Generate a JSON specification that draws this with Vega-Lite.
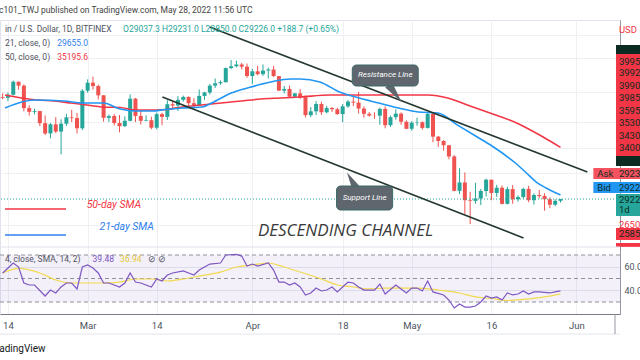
{
  "$schema": "https://vega.github.io/schema/vega-lite/v6.json",
  "width": 620,
  "height": 294,
  "autosize": {"type": "none"},
  "padding": {"left": 0, "top": 20, "right": 20, "bottom": 46},
  "background": "white",
  "config": {"view": {"stroke": "#e0e3eb"}, "font": "Roboto"},
  "title": {"text": "c101_TWJ published on TradingView.com, May 28, 2022 11:56 UTC", "anchor": "start", "frame": "group", "fontSize": 8.5, "fontWeight": "normal", "font": "Roboto", "color": "#444444", "offset": 6, "dx": -1},
  "datasets": {
    "candles": [
      {"d":"2022-02-13","o":42200,"h":42760,"l":41870,"c":42070},
      {"d":"2022-02-14","o":42070,"h":42880,"l":41570,"c":42540},
      {"d":"2022-02-15","o":42540,"h":44760,"l":42430,"c":44580},
      {"d":"2022-02-16","o":44580,"h":44580,"l":43310,"c":43960},
      {"d":"2022-02-17","o":43960,"h":44160,"l":40070,"c":40540},
      {"d":"2022-02-18","o":40540,"h":40960,"l":39450,"c":40000},
      {"d":"2022-02-19","o":40000,"h":40450,"l":39640,"c":40110},
      {"d":"2022-02-20","o":40110,"h":40150,"l":38000,"c":38400},
      {"d":"2022-02-21","o":38400,"h":39480,"l":36800,"c":37010},
      {"d":"2022-02-22","o":37010,"h":38430,"l":36350,"c":38240},
      {"d":"2022-02-23","o":38240,"h":39250,"l":37050,"c":37260},
      {"d":"2022-02-24","o":37260,"h":38950,"l":34320,"c":38330},
      {"d":"2022-02-25","o":38330,"h":39720,"l":38020,"c":39210},
      {"d":"2022-02-26","o":39210,"h":40290,"l":38560,"c":39110},
      {"d":"2022-02-27","o":39110,"h":39850,"l":37000,"c":37700},
      {"d":"2022-02-28","o":37700,"h":43400,"l":37450,"c":43160},
      {"d":"2022-03-01","o":43160,"h":44950,"l":42830,"c":44420},
      {"d":"2022-03-02","o":44420,"h":45400,"l":43330,"c":43890},
      {"d":"2022-03-03","o":43890,"h":44100,"l":41830,"c":42450},
      {"d":"2022-03-04","o":42450,"h":42500,"l":38600,"c":39150},
      {"d":"2022-03-05","o":39150,"h":39620,"l":38560,"c":39400},
      {"d":"2022-03-06","o":39400,"h":39680,"l":38090,"c":38420},
      {"d":"2022-03-07","o":38420,"h":39550,"l":37150,"c":37990},
      {"d":"2022-03-08","o":37990,"h":39360,"l":37860,"c":38730},
      {"d":"2022-03-09","o":38730,"h":42600,"l":38650,"c":41940},
      {"d":"2022-03-10","o":41940,"h":42050,"l":38550,"c":39420},
      {"d":"2022-03-11","o":39420,"h":40240,"l":38220,"c":38730},
      {"d":"2022-03-12","o":38730,"h":39490,"l":38660,"c":38810},
      {"d":"2022-03-13","o":38810,"h":39300,"l":37580,"c":37780},
      {"d":"2022-03-14","o":37780,"h":39900,"l":37560,"c":39670},
      {"d":"2022-03-15","o":39670,"h":39870,"l":38120,"c":39280},
      {"d":"2022-03-16","o":39280,"h":41720,"l":38850,"c":41110},
      {"d":"2022-03-17","o":41110,"h":41470,"l":40500,"c":40920},
      {"d":"2022-03-18","o":40920,"h":42320,"l":40130,"c":41760},
      {"d":"2022-03-19","o":41760,"h":42400,"l":41500,"c":42200},
      {"d":"2022-03-20","o":42200,"h":42300,"l":40900,"c":41260},
      {"d":"2022-03-21","o":41260,"h":42000,"l":40480,"c":41000},
      {"d":"2022-03-22","o":41000,"h":43350,"l":40880,"c":42360},
      {"d":"2022-03-23","o":42360,"h":42990,"l":41750,"c":42890},
      {"d":"2022-03-24","o":42890,"h":44220,"l":42570,"c":43960},
      {"d":"2022-03-25","o":43960,"h":45100,"l":43590,"c":44330},
      {"d":"2022-03-26","o":44330,"h":44800,"l":44100,"c":44510},
      {"d":"2022-03-27","o":44510,"h":46920,"l":44430,"c":46820},
      {"d":"2022-03-28","o":46820,"h":48190,"l":46640,"c":47130},
      {"d":"2022-03-29","o":47130,"h":48100,"l":46950,"c":47430},
      {"d":"2022-03-30","o":47430,"h":47700,"l":46600,"c":47060},
      {"d":"2022-03-31","o":47060,"h":47600,"l":45210,"c":45510},
      {"d":"2022-04-01","o":45510,"h":46700,"l":44210,"c":46280},
      {"d":"2022-04-02","o":46280,"h":47210,"l":45620,"c":45810},
      {"d":"2022-04-03","o":45810,"h":47440,"l":45530,"c":46410},
      {"d":"2022-04-04","o":46410,"h":46890,"l":45120,"c":46580},
      {"d":"2022-04-05","o":46580,"h":47200,"l":45350,"c":45500},
      {"d":"2022-04-06","o":45500,"h":45500,"l":43120,"c":43170},
      {"d":"2022-04-07","o":43170,"h":43900,"l":42730,"c":43440},
      {"d":"2022-04-08","o":43440,"h":43970,"l":42110,"c":42250},
      {"d":"2022-04-09","o":42250,"h":42800,"l":42130,"c":42750},
      {"d":"2022-04-10","o":42750,"h":43420,"l":41870,"c":42160},
      {"d":"2022-04-11","o":42160,"h":42420,"l":39200,"c":39530},
      {"d":"2022-04-12","o":39530,"h":40700,"l":39250,"c":40070},
      {"d":"2022-04-13","o":40070,"h":41560,"l":39550,"c":41150},
      {"d":"2022-04-14","o":41150,"h":41500,"l":39550,"c":39940},
      {"d":"2022-04-15","o":39940,"h":40870,"l":39770,"c":40550},
      {"d":"2022-04-16","o":40550,"h":40710,"l":39990,"c":40380},
      {"d":"2022-04-17","o":40380,"h":40600,"l":39550,"c":39680},
      {"d":"2022-04-18","o":39680,"h":41130,"l":38540,"c":40800},
      {"d":"2022-04-19","o":40800,"h":41760,"l":40570,"c":41500},
      {"d":"2022-04-20","o":41500,"h":42200,"l":40830,"c":41360},
      {"d":"2022-04-21","o":41360,"h":42970,"l":39750,"c":40480},
      {"d":"2022-04-22","o":40480,"h":40800,"l":39180,"c":39710},
      {"d":"2022-04-23","o":39710,"h":39980,"l":39310,"c":39470},
      {"d":"2022-04-24","o":39470,"h":39930,"l":39000,"c":39450},
      {"d":"2022-04-25","o":39450,"h":40620,"l":38200,"c":40430},
      {"d":"2022-04-26","o":40430,"h":40800,"l":37700,"c":38120},
      {"d":"2022-04-27","o":38120,"h":39470,"l":37880,"c":39240},
      {"d":"2022-04-28","o":39240,"h":40370,"l":38880,"c":39740},
      {"d":"2022-04-29","o":39740,"h":39920,"l":38180,"c":38600},
      {"d":"2022-04-30","o":38600,"h":38790,"l":37580,"c":37630},
      {"d":"2022-05-01","o":37630,"h":38670,"l":37390,"c":38470},
      {"d":"2022-05-02","o":38470,"h":39170,"l":38050,"c":38530},
      {"d":"2022-05-03","o":38530,"h":38650,"l":37510,"c":37750},
      {"d":"2022-05-04","o":37750,"h":39900,"l":37660,"c":39700},
      {"d":"2022-05-05","o":39700,"h":39840,"l":35860,"c":36580},
      {"d":"2022-05-06","o":36580,"h":36670,"l":35260,"c":36010},
      {"d":"2022-05-07","o":36010,"h":36140,"l":34780,"c":35470},
      {"d":"2022-05-08","o":35470,"h":35510,"l":33720,"c":34060},
      {"d":"2022-05-09","o":34060,"h":34240,"l":30030,"c":30100},
      {"d":"2022-05-10","o":30100,"h":32650,"l":29740,"c":31020},
      {"d":"2022-05-11","o":31020,"h":32160,"l":27700,"c":29100},
      {"d":"2022-05-12","o":29100,"h":30000,"l":26700,"c":29030},
      {"d":"2022-05-13","o":29030,"h":30990,"l":28730,"c":29280},
      {"d":"2022-05-14","o":29280,"h":30300,"l":28600,"c":30080},
      {"d":"2022-05-15","o":30080,"h":31430,"l":29490,"c":31330},
      {"d":"2022-05-16","o":31330,"h":31330,"l":29100,"c":29870},
      {"d":"2022-05-17","o":29870,"h":30760,"l":29450,"c":30440},
      {"d":"2022-05-18","o":30440,"h":30690,"l":28660,"c":28720},
      {"d":"2022-05-19","o":28720,"h":30550,"l":28660,"c":30290},
      {"d":"2022-05-20","o":30290,"h":30740,"l":28730,"c":29200},
      {"d":"2022-05-21","o":29200,"h":29620,"l":28950,"c":29430},
      {"d":"2022-05-22","o":29430,"h":30440,"l":29260,"c":30310},
      {"d":"2022-05-23","o":30310,"h":30650,"l":28890,"c":29100},
      {"d":"2022-05-24","o":29100,"h":29830,"l":28650,"c":29650},
      {"d":"2022-05-25","o":29650,"h":30200,"l":29310,"c":29540},
      {"d":"2022-05-26","o":29540,"h":29850,"l":28020,"c":29200},
      {"d":"2022-05-27","o":29200,"h":29400,"l":28280,"c":28630},
      {"d":"2022-05-28","o":28630,"h":29200,"l":28470,"c":29037.3},
      {"d":"2022-05-29","o":29037.3,"h":29231,"l":28850,"c":29226}
    ],
    "sma21": [
      {"d":"2022-02-13T10:40:00Z","v":40554},{"d":"2022-02-16T14:10:00Z","v":41440},{"d":"2022-02-19T00:00:00Z","v":41740},
      {"d":"2022-02-24T13:20:00Z","v":41590},{"d":"2022-02-28T06:10:00Z","v":41290},{"d":"2022-03-03T23:00:00Z","v":41290},
      {"d":"2022-03-07T02:40:00Z","v":40410},{"d":"2022-03-10T01:40:00Z","v":40120},{"d":"2022-03-13T05:20:00Z","v":40120},
      {"d":"2022-03-15T15:00:00Z","v":40340},{"d":"2022-03-18T18:40:00Z","v":40554},{"d":"2022-03-22T11:30:00Z","v":40700},
      {"d":"2022-03-24T08:00:00Z","v":41290},{"d":"2022-03-28T01:00:00Z","v":42805},{"d":"2022-03-31T17:45:00Z","v":43740},
      {"d":"2022-04-04T10:40:00Z","v":44535},{"d":"2022-04-08T03:30:00Z","v":45020},{"d":"2022-04-10T00:00:00Z","v":45020},
      {"d":"2022-04-13T17:00:00Z","v":44535},{"d":"2022-04-17T09:50:00Z","v":42960},{"d":"2022-04-21T02:40:00Z","v":42040},
      {"d":"2022-04-24T19:30:00Z","v":41290},{"d":"2022-04-28T12:30:00Z","v":40554},{"d":"2022-05-02T05:20:00Z","v":39975},
      {"d":"2022-05-05T22:20:00Z","v":39830},{"d":"2022-05-09T15:10:00Z","v":38140},{"d":"2022-05-13T08:00:00Z","v":36530},
      {"d":"2022-05-16T02:40:00Z","v":35370},{"d":"2022-05-20T17:45:00Z","v":33150},{"d":"2022-05-22T14:10:00Z","v":32095},
      {"d":"2022-05-24T10:40:00Z","v":31070},{"d":"2022-05-26T07:10:00Z","v":30405},{"d":"2022-05-28T03:30:00Z","v":29864},
      {"d":"2022-05-29T00:00:00Z","v":29655}
    ],
    "sma50": [
      {"d":"2022-02-13T10:40:00Z","v":42498},{"d":"2022-02-16T14:10:00Z","v":42042},{"d":"2022-02-19T13:20:00Z","v":41740},
      {"d":"2022-02-22T16:50:00Z","v":41590},{"d":"2022-02-25T20:25:00Z","v":41290},{"d":"2022-02-28T19:30:00Z","v":41000},
      {"d":"2022-03-03T23:00:00Z","v":40700},{"d":"2022-03-07T02:40:00Z","v":40620},{"d":"2022-03-10T01:40:00Z","v":40265},
      {"d":"2022-03-13T05:20:00Z","v":40265},{"d":"2022-03-15T15:00:00Z","v":40340},{"d":"2022-03-18T18:40:00Z","v":40700},
      {"d":"2022-03-22T11:30:00Z","v":41000},{"d":"2022-03-26T04:30:00Z","v":41290},{"d":"2022-03-29T21:20:00Z","v":41590},
      {"d":"2022-04-02T14:10:00Z","v":41890},{"d":"2022-04-06T07:10:00Z","v":42040},{"d":"2022-04-10T00:00:00Z","v":42195},
      {"d":"2022-04-15T13:20:00Z","v":42498},{"d":"2022-04-21T02:40:00Z","v":42498},{"d":"2022-04-28T12:30:00Z","v":42498},
      {"d":"2022-05-04T01:40:00Z","v":42498},{"d":"2022-05-07T18:40:00Z","v":42040},{"d":"2022-05-11T11:30:00Z","v":41000},
      {"d":"2022-05-15T04:30:00Z","v":39975},{"d":"2022-05-20T17:45:00Z","v":38425},{"d":"2022-05-25T17:45:00Z","v":36530},
      {"d":"2022-05-29T00:00:00Z","v":35195.6}
    ],
    "trend": [
      {"id":"resistance","d":"2022-03-23T23:00:00Z","p":54288},{"id":"resistance","d":"2022-06-03T01:40:00Z","p":32210},
      {"id":"support","d":"2022-03-15T01:40:00Z","p":42194},{"id":"support","d":"2022-05-22T01:00:00Z","p":25398}
    ],
    "keylines": [
      {"s":"50","d":"2022-02-13T10:40:00Z","p":28192},{"s":"50","d":"2022-02-24T22:20:00Z","p":28192},
      {"s":"21","d":"2022-02-13T10:40:00Z","p":25672},{"s":"21","d":"2022-02-24T22:20:00Z","p":25672}
    ],
    "boxes": [
      {"id":"resistance","d":"2022-04-19T19:30:00Z","d2":"2022-05-02T05:20:00Z","p":47346,"p2":43898},
      {"id":"support","d":"2022-04-16T20:25:00Z","d2":"2022-04-27T09:50:00Z","p":30626,"p2":28092}
    ],
    "pointers": [
      {"id":"resistance","d":"2022-04-27T20:50:00Z","p":42729},
      {"id":"support","d":"2022-04-19T15:10:00Z","p":31296}
    ],
    "boxtext": [
      {"t":"Resistance Line","d":"2022-04-26T00:30:00Z","p":45592},
      {"t":"Support Line","d":"2022-04-22T03:10:00Z","p":29331}
    ],
    "legend": [
      {"k":"label","t":"in / U.S. Dollar, 1D, BITFINEX","d":"2022-02-13T10:40:00Z","p":53895},
      {"k":"ohlc","t":"O29037.3  H29231.0  L28850.0  C29226.0  +188.7 (+0.65%)","d":"2022-03-07T16:00:00Z","p":53895},
      {"k":"label","t":"21, close, 0)","d":"2022-02-13T10:40:00Z","p":51245},
      {"k":"sma21","t":"29655.0","d":"2022-02-23T06:15:00Z","p":51245},
      {"k":"label","t":"50, close, 0)","d":"2022-02-13T10:40:00Z","p":48729},
      {"k":"sma50","t":"35195.6","d":"2022-02-23T06:15:00Z","p":48729}
    ],
    "notes": [
      {"k":"sma50","t":"50-day SMA","d":"2022-02-28T19:30:00Z","p":28601},
      {"k":"sma21","t":"21-day SMA","d":"2022-03-03T05:20:00Z","p":26423}
    ],
    "channel": [
      {"t":"DESCENDING CHANNEL","d":"2022-04-02T01:00:00Z","p":26046}
    ],
    "frame": [
      {"d":"2022-06-08T06:15:00Z","p":19319,"p2":17975}
    ],
    "badges": [
      {"k":"dark","d":"2022-06-08T10:40:00Z","d2":"2022-06-14T00:00:00Z","p":50883,"p2":49257},
      {"k":"red","d":"2022-06-08T10:40:00Z","d2":"2022-06-14T00:00:00Z","p":49257,"p2":34119},
      {"k":"dark","d":"2022-06-08T10:40:00Z","d2":"2022-06-14T00:00:00Z","p":34119,"p2":32912},
      {"k":"ask","d":"2022-06-04T04:30:00Z","d2":"2022-06-14T00:00:00Z","p":32678,"p2":31409},
      {"k":"bid","d":"2022-06-04T04:30:00Z","d2":"2022-06-14T00:00:00Z","p":31070,"p2":29863},
      {"k":"teal","d":"2022-06-08T10:40:00Z","d2":"2022-06-14T00:00:00Z","p":29757,"p2":27490},
      {"k":"red","d":"2022-06-08T10:40:00Z","d2":"2022-06-14T00:00:00Z","p":26329,"p2":25216},
      {"k":"red","d":"2022-06-08T10:40:00Z","d2":"2022-06-14T00:00:00Z","p":24944,"p2":24600}
    ],
    "badgetext": [
      {"k":"w","t":"41950.0","d":"2022-06-09T00:00:00Z","p":50061},
      {"k":"w","t":"39950.0","d":"2022-06-09T00:00:00Z","p":47858},
      {"k":"w","t":"39925.0","d":"2022-06-09T00:00:00Z","p":46003},
      {"k":"w","t":"39900.0","d":"2022-06-09T00:00:00Z","p":43898},
      {"k":"w","t":"39850.0","d":"2022-06-09T00:00:00Z","p":42042},
      {"k":"w","t":"35950.0","d":"2022-06-09T00:00:00Z","p":40119},
      {"k":"w","t":"35300.0","d":"2022-06-09T00:00:00Z","p":38424},
      {"k":"w","t":"34300.0","d":"2022-06-09T00:00:00Z","p":36667},
      {"k":"w","t":"34000.0","d":"2022-06-09T00:00:00Z","p":35115},
      {"k":"w","t":"32150.0","d":"2022-06-09T00:00:00Z","p":33511},
      {"k":"w","t":"Ask","d":"2022-06-04T22:20:00Z","p":32035},
      {"k":"w","t":"29230.0","d":"2022-06-09T00:00:00Z","p":32035},
      {"k":"w","t":"Bid","d":"2022-06-04T22:20:00Z","p":30462},
      {"k":"w","t":"29220.0","d":"2022-06-09T00:00:00Z","p":30462},
      {"k":"w","t":"29226.0","d":"2022-06-09T00:00:00Z","p":29121},
      {"k":"w","t":"1d","d":"2022-06-09T00:00:00Z","p":28092},
      {"k":"g","t":"26500.0","d":"2022-06-09T00:00:00Z","p":26613},
      {"k":"w","t":"25850.0","d":"2022-06-09T00:00:00Z","p":25766},
      {"k":"g","t":"USD","d":"2022-06-09T00:00:00Z","p":53703}
    ],
    "rsi": [
      {"d":"2022-02-13","r":54.7},{"d":"2022-02-15","r":63.2},{"d":"2022-02-16","r":59.8},{"d":"2022-02-17","r":46.2},
      {"d":"2022-02-18","r":44.5},{"d":"2022-02-19","r":44.5},{"d":"2022-02-21","r":35.1},{"d":"2022-02-22","r":40.2},
      {"d":"2022-02-23","r":37.7},{"d":"2022-02-24","r":42.8},{"d":"2022-02-25","r":46.2},{"d":"2022-02-26","r":46.2},
      {"d":"2022-02-27","r":41.1},{"d":"2022-02-28","r":59.8},{"d":"2022-03-01","r":61.5},{"d":"2022-03-02","r":58.9},
      {"d":"2022-03-03","r":54.7},{"d":"2022-03-04","r":46.2},{"d":"2022-03-05","r":46.2},{"d":"2022-03-07","r":42.8},
      {"d":"2022-03-08","r":46.2},{"d":"2022-03-09","r":54.7},{"d":"2022-03-10","r":47.0},{"d":"2022-03-11","r":46.2},
      {"d":"2022-03-13","r":42.8},{"d":"2022-03-14","r":49.6},{"d":"2022-03-15","r":47.9},{"d":"2022-03-16","r":53.0},
      {"d":"2022-03-17","r":54.7},{"d":"2022-03-19","r":56.4},{"d":"2022-03-20","r":54.7},{"d":"2022-03-21","r":53.0},
      {"d":"2022-03-22","r":57.2},{"d":"2022-03-23","r":59.8},{"d":"2022-03-24","r":62.3},{"d":"2022-03-26","r":63.2},
      {"d":"2022-03-27","r":70.0},{"d":"2022-03-29","r":70.5},{"d":"2022-03-30","r":69.1},{"d":"2022-03-31","r":60.6},
      {"d":"2022-04-01","r":62.3},{"d":"2022-04-02","r":60.6},{"d":"2022-04-04","r":63.2},{"d":"2022-04-05","r":57.2},
      {"d":"2022-04-06","r":47.0},{"d":"2022-04-07","r":47.0},{"d":"2022-04-08","r":44.5},{"d":"2022-04-09","r":46.2},
      {"d":"2022-04-10","r":42.8},{"d":"2022-04-11","r":36.0},{"d":"2022-04-12","r":37.7},{"d":"2022-04-13","r":41.9},
      {"d":"2022-04-14","r":39.4},{"d":"2022-04-15","r":40.2},{"d":"2022-04-16","r":42.8},{"d":"2022-04-17","r":38.6},
      {"d":"2022-04-18","r":42.8},{"d":"2022-04-19","r":47.0},{"d":"2022-04-20","r":46.2},{"d":"2022-04-21","r":42.8},
      {"d":"2022-04-22","r":40.2},{"d":"2022-04-24","r":40.2},{"d":"2022-04-25","r":45.3},{"d":"2022-04-26","r":36.8},
      {"d":"2022-04-28","r":44.5},{"d":"2022-04-29","r":41.1},{"d":"2022-04-30","r":37.7},{"d":"2022-05-01","r":41.9},
      {"d":"2022-05-02","r":41.9},{"d":"2022-05-03","r":39.4},{"d":"2022-05-04","r":47.9},{"d":"2022-05-05","r":38.6},
      {"d":"2022-05-07","r":36.0},{"d":"2022-05-08","r":31.7},{"d":"2022-05-09","r":24.9},{"d":"2022-05-10","r":28.3},
      {"d":"2022-05-11","r":25.7},{"d":"2022-05-12","r":25.7},{"d":"2022-05-13","r":26.6},{"d":"2022-05-14","r":30.0},
      {"d":"2022-05-15","r":35.1},{"d":"2022-05-16","r":33.4},{"d":"2022-05-17","r":34.3},{"d":"2022-05-18","r":31.7},
      {"d":"2022-05-19","r":37.7},{"d":"2022-05-20","r":36.0},{"d":"2022-05-21","r":36.8},{"d":"2022-05-22","r":39.4},
      {"d":"2022-05-23","r":36.8},{"d":"2022-05-24","r":38.6},{"d":"2022-05-25","r":38.6},{"d":"2022-05-27","r":37.7},
      {"d":"2022-05-28","r":38.6},{"d":"2022-05-29","r":39.48}
    ],
    "rsima": [
      {"d":"2022-02-13","r":54.7},{"d":"2022-02-16","r":58.6},{"d":"2022-02-20","r":54.7},{"d":"2022-02-23","r":48.7},
      {"d":"2022-02-26","r":46.2},{"d":"2022-03-01","r":46.2},{"d":"2022-03-04","r":46.2},{"d":"2022-03-07","r":47.0},
      {"d":"2022-03-10","r":49.6},{"d":"2022-03-13","r":49.6},{"d":"2022-03-16","r":47.9},{"d":"2022-03-19","r":49.6},
      {"d":"2022-03-22","r":52.1},{"d":"2022-03-26","r":55.5},{"d":"2022-03-29","r":59.8},{"d":"2022-04-01","r":61.5},
      {"d":"2022-04-04","r":63.2},{"d":"2022-04-07","r":59.8},{"d":"2022-04-10","r":55.5},{"d":"2022-04-14","r":49.6},
      {"d":"2022-04-17","r":44.5},{"d":"2022-04-20","r":42.8},{"d":"2022-04-23","r":41.1},{"d":"2022-04-26","r":41.9},
      {"d":"2022-04-29","r":41.9},{"d":"2022-05-02","r":41.9},{"d":"2022-05-06","r":40.2},{"d":"2022-05-10","r":37.7},
      {"d":"2022-05-13","r":34.3},{"d":"2022-05-16","r":33.0},{"d":"2022-05-19","r":31.3},{"d":"2022-05-22","r":32.2},
      {"d":"2022-05-26","r":34.3},{"d":"2022-05-29","r":36.94}
    ],
    "rsilegend": [
      {"k":"label","t":"4, close, SMA, 14, 2)","d":"2022-02-13T10:40:00Z","r":66.6},
      {"k":"rsi","t":"39.48","d":"2022-03-01T22:20:00Z","r":66.6},
      {"k":"rsima","t":"36.94","d":"2022-03-07T02:40:00Z","r":66.6},
      {"k":"label","t":"⊘  ⊘","d":"2022-03-12T07:10:00Z","r":66.6}
    ]
  },
  "layer": [
    {
      "layer": [
        {
          "data": {"name": "candles"},
          "mark": {"type": "rule", "strokeWidth": 1},
          "encoding": {
            "x": {"field": "d", "type": "temporal",
              "scale": {"type": "utc", "domain": [{"year": 2022, "month": "feb", "date": 13, "hours": 10, "minutes": 40, "utc": true}, {"year": 2022, "month": "jun", "date": 8, "hours": 6, "minutes": 15, "utc": true}]},
              "axis": {"values": [{"year": 2022, "month": "feb", "date": 14, "utc": true}, {"year": 2022, "month": "mar", "date": 1, "utc": true}, {"year": 2022, "month": "mar", "date": 14, "utc": true}, {"year": 2022, "month": "apr", "date": 1, "utc": true}, {"year": 2022, "month": "apr", "date": 18, "utc": true}, {"year": 2022, "month": "may", "date": 1, "utc": true}, {"year": 2022, "month": "may", "date": 16, "utc": true}, {"year": 2022, "month": "jun", "date": 1, "utc": true}],
                "labelExpr": "utcdate(datum.value) == 1 ? utcFormat(datum.value, '%b') : utcFormat(datum.value, '%-d')",
                "grid": true, "gridColor": "#eef0f4", "ticks": false, "domainColor": "#787b86", "labelColor": "#4c525e", "labelFontSize": 9.5, "labelPadding": 6, "labelFlush": false, "labelOverlap": false, "zindex": 0,
                "title": "TradingView", "titleAnchor": "start", "titleAlign": "left", "titleX": -10, "titleY": 34, "titleBaseline": "middle", "titleFontSize": 10, "titleFontWeight": "normal", "titleColor": "#131722"}},
            "y": {"field": "l", "type": "quantitative",
              "scale": {"type": "log", "domain": [19319, 55673], "nice": false, "zero": false},
              "axis": {"orient": "right", "labels": false, "ticks": false, "domain": true, "domainColor": "#9598a1", "grid": true, "gridColor": "#eef0f4", "values": [26600, 32100, 35100, 38500, 43000, 48500, 52700], "title": null, "zindex": 0}},
            "y2": {"field": "h"},
            "color": {"condition": {"test": "datum.c >= datum.o", "value": "#26a69a"}, "value": "#ef5350"}
          }
        },
        {
          "data": {"name": "candles"},
          "mark": {"type": "bar", "size": 4},
          "encoding": {
            "x": {"field": "d", "type": "temporal"},
            "y": {"field": "o", "type": "quantitative"},
            "y2": {"field": "c"},
            "color": {"condition": {"test": "datum.c >= datum.o", "value": "#26a69a"}, "value": "#ef5350"}
          }
        },
        {
          "mark": {"type": "rule", "color": "#26a69a", "strokeDash": [1, 2], "strokeWidth": 1},
          "data": {"values": [{"p": 29226}]},
          "encoding": {"y": {"field": "p", "type": "quantitative"}}
        },
        {
          "mark": {"type": "rule", "color": "#e3e6ec", "strokeWidth": 1},
          "data": {"values": [{"p": 17975}]},
          "encoding": {"y": {"field": "p", "type": "quantitative"}}
        },
        {
          "data": {"name": "frame"},
          "mark": {"type": "rule", "color": "#9598a1", "strokeWidth": 1},
          "encoding": {"x": {"field": "d", "type": "temporal"}, "y": {"field": "p", "type": "quantitative"}, "y2": {"field": "p2"}}
        },
        {
          "data": {"name": "sma50"},
          "mark": {"type": "line", "color": "#f23645", "strokeWidth": 1.6, "interpolate": "monotone"},
          "encoding": {"x": {"field": "d", "type": "temporal"}, "y": {"field": "v", "type": "quantitative"}}
        },
        {
          "data": {"name": "sma21"},
          "mark": {"type": "line", "color": "#2196f3", "strokeWidth": 1.6, "interpolate": "monotone"},
          "encoding": {"x": {"field": "d", "type": "temporal"}, "y": {"field": "v", "type": "quantitative"}}
        },
        {
          "data": {"name": "trend"},
          "mark": {"type": "line", "color": "#24382f", "strokeWidth": 1.6},
          "encoding": {"x": {"field": "d", "type": "temporal"}, "y": {"field": "p", "type": "quantitative"}, "detail": {"field": "id"}}
        },
        {
          "data": {"name": "keylines"},
          "transform": [{"filter": "datum.s == '50'"}],
          "mark": {"type": "line", "color": "#f23645", "strokeWidth": 1.6},
          "encoding": {"x": {"field": "d", "type": "temporal"}, "y": {"field": "p", "type": "quantitative"}}
        },
        {
          "data": {"name": "keylines"},
          "transform": [{"filter": "datum.s == '21'"}],
          "mark": {"type": "line", "color": "#2f80ed", "strokeWidth": 1.6},
          "encoding": {"x": {"field": "d", "type": "temporal"}, "y": {"field": "p", "type": "quantitative"}}
        },
        {
          "data": {"name": "pointers"},
          "transform": [{"filter": "datum.id == 'resistance'"}],
          "mark": {"type": "point", "shape": "M -0.4 -1 L 0.4 -1 L 0 1 Z", "size": 460, "angle": 323, "filled": true, "color": "#5f666e", "opacity": 1},
          "encoding": {"x": {"field": "d", "type": "temporal"}, "y": {"field": "p", "type": "quantitative"}}
        },
        {
          "data": {"name": "pointers"},
          "transform": [{"filter": "datum.id == 'support'"}],
          "mark": {"type": "point", "shape": "M -0.45 -1 L 0.45 -1 L 0 1 Z", "size": 300, "angle": 150, "filled": true, "color": "#5f666e", "opacity": 1},
          "encoding": {"x": {"field": "d", "type": "temporal"}, "y": {"field": "p", "type": "quantitative"}}
        },
        {
          "data": {"name": "boxes"},
          "mark": {"type": "rect", "fill": "#5f666e", "stroke": "#3b6a66", "strokeWidth": 1, "cornerRadius": 4},
          "encoding": {"x": {"field": "d", "type": "temporal"}, "x2": {"field": "d2"}, "y": {"field": "p", "type": "quantitative"}, "y2": {"field": "p2"}}
        },
        {
          "data": {"name": "boxtext"},
          "mark": {"type": "text", "color": "white", "fontSize": 8, "fontStyle": "italic", "align": "center", "baseline": "middle"},
          "encoding": {"x": {"field": "d", "type": "temporal"}, "y": {"field": "p", "type": "quantitative"}, "text": {"field": "t"}}
        },
        {
          "data": {"name": "notes"},
          "mark": {"type": "text", "fontSize": 10.5, "fontStyle": "italic", "align": "left", "baseline": "middle"},
          "encoding": {"x": {"field": "d", "type": "temporal"}, "y": {"field": "p", "type": "quantitative"}, "text": {"field": "t"},
            "color": {"field": "k", "type": "nominal", "scale": {"domain": ["label", "ohlc", "sma21", "sma50", "rsi", "rsima"], "range": ["#50535e", "#26a69a", "#2f80ed", "#f23645", "#7e57c2", "#e6c93a"]}, "legend": null}}
        },
        {
          "data": {"name": "channel"},
          "mark": {"type": "text", "fontSize": 17, "fontStyle": "italic", "font": "Open Sans", "color": "#3a3a3a", "align": "left", "baseline": "middle"},
          "encoding": {"x": {"field": "d", "type": "temporal"}, "y": {"field": "p", "type": "quantitative"}, "text": {"field": "t"}}
        },
        {
          "data": {"name": "legend"},
          "mark": {"type": "text", "fontSize": 8.5, "align": "left", "baseline": "middle"},
          "encoding": {"x": {"field": "d", "type": "temporal"}, "y": {"field": "p", "type": "quantitative"}, "text": {"field": "t"},
            "color": {"field": "k", "type": "nominal", "scale": {"domain": ["label", "ohlc", "sma21", "sma50", "rsi", "rsima"], "range": ["#50535e", "#26a69a", "#2f80ed", "#f23645", "#7e57c2", "#e6c93a"]}, "legend": null}}
        },
        {
          "data": {"name": "badges"},
          "mark": {"type": "rect"},
          "encoding": {"x": {"field": "d", "type": "temporal"}, "x2": {"field": "d2"}, "y": {"field": "p", "type": "quantitative"}, "y2": {"field": "p2"},
            "fill": {"field": "k", "type": "nominal", "scale": {"domain": ["dark", "red", "ask", "bid", "teal"], "range": ["#0c2b22", "#f23645", "#f7525f", "#2196f3", "#26a69a"]}, "legend": null}}
        },
        {
          "data": {"name": "badgetext"},
          "mark": {"type": "text", "fontSize": 9.5, "align": "left", "baseline": "middle"},
          "encoding": {"x": {"field": "d", "type": "temporal"}, "y": {"field": "p", "type": "quantitative"}, "text": {"field": "t"},
            "fill": {"field": "k", "type": "nominal", "scale": {"domain": ["w", "g"], "range": ["#ffffff", "#6a6d78"]}, "legend": null}}
        }
      ]
    },
    {
      "layer": [
        {
          "data": {"values": [{"lo": 30, "hi": 70}]},
          "mark": {"type": "rect", "color": "#7e57c2", "opacity": 0.09},
          "encoding": {
            "y": {"field": "lo", "type": "quantitative", "scale": {"domain": [19.8, 270], "nice": false, "zero": false},
              "axis": {"orient": "right", "values": [40, 60], "format": ".1f", "labelColor": "#4c525e", "labelFontSize": 9, "labelPadding": 4, "ticks": false, "domain": false, "grid": true, "gridColor": "#e6e8ee", "title": null, "zindex": 0}},
            "y2": {"field": "hi"}
          }
        },
        {
          "data": {"values": [{"v": 70}, {"v": 50}, {"v": 30}]},
          "mark": {"type": "rule", "color": "#8f929b", "strokeDash": [4, 3], "strokeWidth": 1},
          "encoding": {"y": {"field": "v", "type": "quantitative"}}
        },
        {
          "data": {"values": [{"v": 76.8}]},
          "mark": {"type": "rule", "color": "#e0e3eb", "strokeWidth": 1},
          "encoding": {"y": {"field": "v", "type": "quantitative"}}
        },
        {
          "data": {"name": "rsima"},
          "mark": {"type": "line", "color": "#f2d94e", "strokeWidth": 1.2, "interpolate": "monotone"},
          "encoding": {"x": {"field": "d", "type": "temporal"}, "y": {"field": "r", "type": "quantitative"}}
        },
        {
          "data": {"name": "rsi"},
          "mark": {"type": "line", "color": "#7e57c2", "strokeWidth": 1.2},
          "encoding": {"x": {"field": "d", "type": "temporal"}, "y": {"field": "r", "type": "quantitative"}}
        },
        {
          "data": {"name": "rsilegend"},
          "mark": {"type": "text", "fontSize": 8.5, "align": "left", "baseline": "middle"},
          "encoding": {"x": {"field": "d", "type": "temporal"}, "y": {"field": "r", "type": "quantitative"}, "text": {"field": "t"},
            "color": {"field": "k", "type": "nominal", "scale": {"domain": ["label", "ohlc", "sma21", "sma50", "rsi", "rsima"], "range": ["#50535e", "#26a69a", "#2f80ed", "#f23645", "#7e57c2", "#e6c93a"]}, "legend": null}}
        }
      ]
    }
  ],
  "resolve": {"scale": {"y": "independent"}}
}
